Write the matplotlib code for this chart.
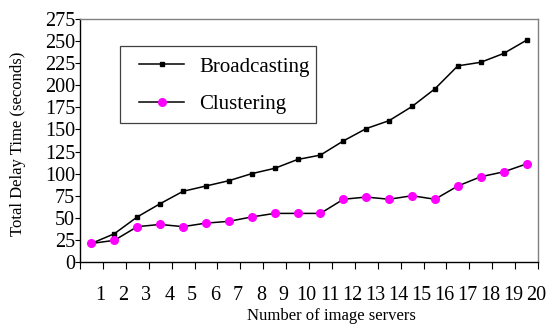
import matplotlib.pyplot as plt
import numpy as np
from matplotlib.patches import Rectangle

plt.rcParams["font.family"] = ["Liberation Serif", "DejaVu Serif"]

# Total delay (seconds) for 1..20 image servers
servers = list(range(1, 21))
broadcasting = [21, 32, 51, 66, 80, 86, 92, 100, 106, 116,
                121, 137, 151, 160, 176, 196, 222, 226, 236, 251]
clustering = [21, 24.5, 40, 42.5, 40, 44, 46, 51, 55, 55,
              55, 71, 73.5, 71, 75, 71, 86, 96.5, 102, 111]
y_ticks = list(range(0, 276, 25))

W, H = 550, 327
fig = plt.figure(figsize=(W / 100, H / 100), dpi=100)
ax = fig.add_axes([80 / W, 1 - 262 / H, 458 / W, 243 / H])

# category axis: points sit in the middle of each slot
x = np.arange(len(servers)) + 0.5
ax.plot(x, broadcasting, "-", color="black", lw=1.1, marker="s", ms=3,
        mfc="black", mec="black", label="Broadcasting", zorder=3)
ax.plot(x, clustering, "-", color="black", lw=1.1, marker="o", ms=5.5,
        mfc="#ff00ff", mec="#ff00ff", label="Clustering", zorder=3)

ax.set_xlim(0, len(servers))
ax.set_ylim(0, 275)

# slot boundaries carry the tick marks, labels sit beside them
ax.set_xticks(np.arange(len(servers) + 1))
ax.set_xticklabels([])
ax.set_xticks(np.array(servers) - 0.1, minor=True)
ax.set_xticklabels([str(s) for s in servers], minor=True)
ax.tick_params(axis="x", which="major", direction="out", length=4.8,
               width=0.8, color="black")
ax.tick_params(axis="x", which="minor", length=0, pad=17.5, labelsize=14.5)

ax.set_yticks(y_ticks)
ax.set_yticklabels([str(v) for v in y_ticks])
ax.tick_params(axis="y", direction="out", length=3.6, width=0.8, pad=0,
               labelsize=14.5)

for side in ("top", "right"):
    ax.spines[side].set_color("#808080")
    ax.spines[side].set_linewidth(1.0)
for side in ("left", "bottom"):
    ax.spines[side].set_color("black")
    ax.spines[side].set_linewidth(1.0)

fig.text(331 / W, 1 - 316 / H, "Number of image servers", fontsize=12,
         ha="center", va="center")
fig.text(18 / W, 1 - 144 / H, "Total Delay Time (seconds)", fontsize=12,
         ha="center", va="center", rotation=90)

# legend box: wider side padding than the legend's own border allows,
# so the frame is a separate rectangle and the entries sit inside it
box = Rectangle((120 / W, 1 - 123 / H), 196 / W, 77 / H,
                transform=fig.transFigure, facecolor="white",
                edgecolor="#404040", linewidth=0.9, zorder=4, clip_on=False)
ax.add_artist(box)
leg = ax.legend(loc="upper left",
                bbox_to_anchor=(139 / W, 1 - 57 / H),
                bbox_transform=fig.transFigure,
                borderaxespad=0, borderpad=0, handlelength=2.16,
                handletextpad=0.72, labelspacing=0.85, fontsize=15,
                frameon=False)
leg.set_zorder(5)

fig.savefig("out.png", dpi=100)
